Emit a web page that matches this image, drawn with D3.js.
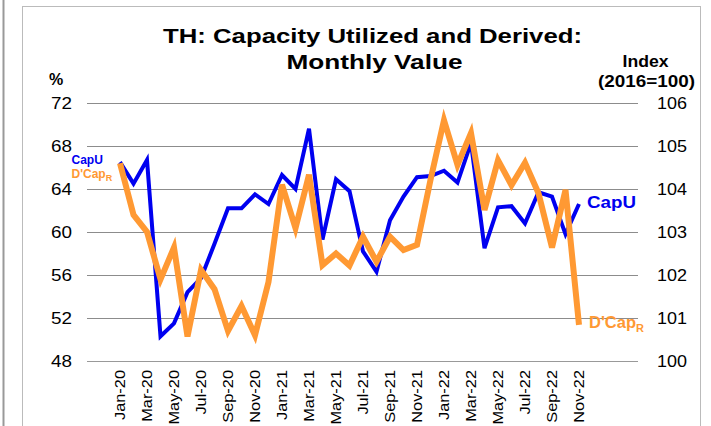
<!DOCTYPE html>
<html><head><meta charset="utf-8">
<script src="https://cdn.jsdelivr.net/npm/d3@7"></script>
<style>body{margin:0;background:#fff}svg{display:block;font-family:"Liberation Sans",Arial,sans-serif}</style>
</head><body><svg id="c" width="711" height="426"></svg>
<script>
const months = ["Jan-20","Feb-20","Mar-20","Apr-20","May-20","Jun-20","Jul-20","Aug-20","Sep-20","Oct-20","Nov-20","Dec-20",
"Jan-21","Feb-21","Mar-21","Apr-21","May-21","Jun-21","Jul-21","Aug-21","Sep-21","Oct-21","Nov-21","Dec-21",
"Jan-22","Feb-22","Mar-22","Apr-22","May-22","Jun-22","Jul-22","Aug-22","Sep-22","Oct-22","Nov-22"];
const capU = [66.5,64.5,66.7,50.3,51.5,54.4,55.7,58.9,62.2,62.2,63.5,62.6,
65.3,64.0,69.6,59.3,64.9,63.8,58.2,56.3,61.1,63.3,65.1,65.2,
65.7,64.6,68.3,58.5,62.3,62.4,60.8,63.7,63.3,59.8,62.6];
const dCapR = [104.6,103.4,103.0,101.9,102.64,100.57,102.12,101.67,100.7,101.28,100.6,101.84,
104.1,103.09,104.33,102.23,102.5,102.22,102.89,102.31,102.89,102.58,102.7,104.21,
105.6,104.56,105.3,103.51,104.67,104.09,104.61,103.9,102.64,103.98,100.84];
const leftTicks = [48,52,56,60,64,68,72];
const rightTicks = [100,101,102,103,104,105,106];
const xTickLabels = months.filter((m,i)=>i%2===0);

const svg = d3.select("#c");
// frames
svg.append("line").attr("x1",3.5).attr("x2",3.5).attr("y1",0).attr("y2",426).attr("stroke","#999").attr("stroke-width",2);
svg.append("rect").attr("x",22.5).attr("y",6.5).attr("width",678).attr("height",430).attr("fill","none").attr("stroke","#bbb").attr("stroke-width",1);

const L=87, R=638, T=103, B=361;
const x = d3.scalePoint().domain(months).range([120,579]);
const yL = d3.scaleLinear().domain([48,72]).range([B,T]);
const yR = d3.scaleLinear().domain([100,106]).range([B,T]);

// gridlines
svg.append("g").selectAll("line").data(leftTicks).join("line")
  .attr("x1",L).attr("x2",R).attr("y1",d=>Math.round(yL(d))+0.5).attr("y2",d=>Math.round(yL(d))+0.5)
  .attr("stroke",d=>d===48?"#999":"#8c8c8c").attr("stroke-width",1);

// left axis labels
svg.append("g").selectAll("text").data(leftTicks).join("text")
  .attr("x",72).attr("y",d=>yL(d)+6).attr("text-anchor","end").attr("font-size",16.5)
  .attr("textLength",21).attr("lengthAdjust","spacingAndGlyphs").attr("fill","#000").text(d=>d);
// right axis labels
svg.append("g").selectAll("text").data(rightTicks).join("text")
  .attr("x",657).attr("y",d=>yR(d)+6).attr("text-anchor","start").attr("font-size",16.5)
  .attr("textLength",30).attr("lengthAdjust","spacingAndGlyphs").attr("fill","#000").text(d=>d);

// x labels
svg.append("g").selectAll("text").data(xTickLabels).join("text")
  .attr("transform",d=>`translate(${x(d)+5},370) rotate(-90) scale(1.17,1)`)
  .attr("text-anchor","end").attr("font-size",14).attr("fill","#000").text(d=>d);

// lines
const lineL = d3.line().x((d,i)=>x(months[i])).y(d=>yL(d));
const lineR = d3.line().x((d,i)=>x(months[i])).y(d=>yR(d));
svg.append("path").datum(capU).attr("d",lineL).attr("fill","none").attr("stroke","#0000f0").attr("stroke-width",4).attr("stroke-linejoin","miter");
svg.append("path").datum(dCapR).attr("d",lineR).attr("fill","none").attr("stroke","#ff9933").attr("stroke-width",6).attr("stroke-linejoin","miter");

// title
svg.append("text").attr("x",372.5).attr("y",43).attr("text-anchor","middle").attr("font-size",21).attr("font-weight","bold")
  .attr("textLength",419).attr("lengthAdjust","spacingAndGlyphs").text("TH: Capacity Utilized and Derived:");
svg.append("text").attr("x",374.5).attr("y",69).attr("text-anchor","middle").attr("font-size",21).attr("font-weight","bold")
  .attr("textLength",176).attr("lengthAdjust","spacingAndGlyphs").text("Monthly Value");
svg.append("text").attr("x",49).attr("y",85).attr("font-size",16).attr("font-weight","bold").text("%");
svg.append("text").attr("x",645.5).attr("y",67).attr("text-anchor","middle").attr("font-size",16).attr("font-weight","bold")
  .attr("textLength",46).attr("lengthAdjust","spacingAndGlyphs").text("Index");
svg.append("text").attr("x",646.5).attr("y",87).attr("text-anchor","middle").attr("font-size",16).attr("font-weight","bold")
  .attr("textLength",97).attr("lengthAdjust","spacingAndGlyphs").text("(2016=100)");

// legend labels
svg.append("text").attr("x",71.5).attr("y",164).attr("font-size",12).attr("font-weight","bold").attr("fill","#0000f0").text("CapU");
const t2 = svg.append("text").attr("x",71.5).attr("y",178).attr("font-size",12).attr("font-weight","bold").attr("fill","#ff9933");
t2.append("tspan").text("D'Cap");
t2.append("tspan").attr("font-size",9).attr("dy",3).text("R");

svg.append("text").attr("x",587).attr("y",208).attr("font-size",17).attr("font-weight","bold").attr("fill","#0000f0")
  .attr("textLength",49).attr("lengthAdjust","spacingAndGlyphs").text("CapU");
const t3 = svg.append("text").attr("x",589).attr("y",328).attr("font-size",16.5).attr("font-weight","bold").attr("fill","#ff9933");
t3.append("tspan").text("D'Cap");
t3.append("tspan").attr("font-size",11).attr("dy",4).text("R");
</script></body></html>
